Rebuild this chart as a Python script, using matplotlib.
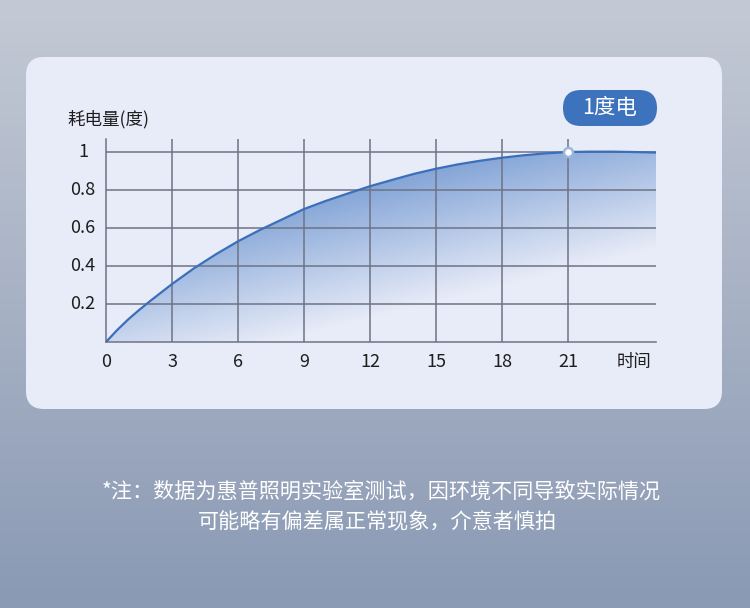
import numpy as np
import matplotlib
matplotlib.use("Agg")
import matplotlib.pyplot as plt
from matplotlib.patches import FancyBboxPatch
from matplotlib.transforms import IdentityTransform

plt.rcParams['font.family'] = ['Noto Sans CJK SC', 'DejaVu Sans']

# ---- data ----
hours = [0, 0.5, 1, 1.5, 2, 3, 4, 5, 6, 7, 8, 9, 10, 11, 12, 13, 14, 15, 16,
         17, 18, 19, 20, 21, 22, 23, 24, 25]
energy = [0, 0.062, 0.118, 0.168, 0.215, 0.305, 0.388, 0.462, 0.53, 0.59,
          0.645, 0.70, 0.743, 0.782, 0.82, 0.853, 0.885, 0.912, 0.935, 0.954,
          0.97, 0.983, 0.993, 1.0, 1.002, 1.002, 1.0, 0.997]
x_ticks = [0, 3, 6, 9, 12, 15, 18, 21]
x_tick_labels = ['0', '3', '6', '9', '12', '15', '18', '21']
y_ticks = [0.2, 0.4, 0.6, 0.8, 1.0]
y_tick_labels = ['0.2', '0.4', '0.6', '0.8', '1']
marker_x = [21]
marker_y = [1.0]
y_title = '耗电量(度)'
x_title = '时间'
badge_text = '1度电'
note_lines = ['*注：数据为惠普照明实验室测试，因环境不同导致实际情况',
              '可能略有偏差属正常现象，介意者慎拍']

W, H = 750, 608
fig = plt.figure(figsize=(W / 100, H / 100), dpi=100)

# background gradient
bg = fig.add_axes([0, 0, 1, 1])
bg.set_axis_off()
t = np.linspace(0, 1, 256)[:, None]
top = np.array([0xc4, 0xca, 0xd5]) / 255
bot = np.array([0x8a, 0x99, 0xb4]) / 255
grad = top * (1 - t[..., None]) + bot * t[..., None]
grad = np.repeat(grad, 4, axis=1)
bg.imshow(grad, aspect='auto', extent=[0, 1, 0, 1], origin='upper')
bg.set_xlim(0, 1)
bg.set_ylim(0, 1)

# panel
panel = FancyBboxPatch((26, H - 409), 696, 352,
                       boxstyle="round,pad=0,rounding_size=18",
                       transform=IdentityTransform(), facecolor='#e8ecf8',
                       edgecolor='none', zorder=1)
fig.add_artist(panel)

# badge
badge = FancyBboxPatch((563, H - 126), 94, 36,
                       boxstyle="round,pad=0,rounding_size=18",
                       transform=IdentityTransform(), facecolor='#3d72bd',
                       edgecolor='none', zorder=3)
fig.add_artist(badge)
fig.text(610 / W, 1 - 108 / H, badge_text, color='white', fontsize=15.5,
         fontweight='medium', ha='center', va='center', zorder=4)

# chart axes
ymax = 1.067
ax = fig.add_axes([106 / W, (H - 342) / H, 550 / W, (342 - 139.3) / H])
ax.set_facecolor('none')
ax.set_xlim(0, 25)
ax.set_ylim(0, ymax)
ax.set_zorder(2)

grid_c = '#6d7386'
for yv in y_ticks:
    ax.axhline(yv, color=grid_c, lw=1.1, zorder=2)
for xv in x_ticks[1:]:
    ax.axvline(xv, color=grid_c, lw=1.1, zorder=2)
for s in ['top', 'right']:
    ax.spines[s].set_visible(False)
for s in ['left', 'bottom']:
    ax.spines[s].set_color(grid_c)
    ax.spines[s].set_linewidth(1.1)
    ax.spines[s].set_zorder(2)

# gradient fill under curve
nx, ny = 300, 200
gx = np.linspace(0, 25, nx)
gy = np.linspace(0, ymax, ny)
GX, GY = np.meshgrid(gx, gy)
alpha = np.clip(0.9 * (GY - 0.0283 * GX + 0.22), 0, 0.62)
rgba = np.zeros((ny, nx, 4))
rgba[..., 0] = 0x4a / 255
rgba[..., 1] = 0x7c / 255
rgba[..., 2] = 0xc4 / 255
rgba[..., 3] = alpha
poly = ax.fill_between(hours, energy, 0, color='none', lw=0)
im = ax.imshow(rgba, extent=[0, 25, 0, ymax], origin='lower', aspect='auto',
               zorder=1)
im.set_clip_path(poly.get_paths()[0], transform=ax.transData)

ax.plot(hours, energy, color='#3a6fba', lw=1.6, zorder=3, solid_capstyle='round')
ax.plot(marker_x, marker_y, 'o', ms=6.5, mfc='white', mec='#9db6dc', mew=1.8,
        zorder=4)

ax.set_xticks([])
ax.set_yticks([])
tick_fs = 13
for xv, lab in zip(x_ticks, x_tick_labels):
    ax.text(xv, -0.105, lab, ha='center', va='center', fontsize=tick_fs,
            color='#1e1e1e')
ax.text(24, -0.105, x_title, ha='center', va='center', fontsize=12.5,
        color='#1e1e1e')
for yv, lab in zip(y_ticks, y_tick_labels):
    ax.text(-1.05, yv, lab, ha='center', va='center', fontsize=tick_fs,
            color='#1e1e1e')
fig.text(67 / W, 1 - 119 / H, y_title, ha='left', va='center', fontsize=12.6,
         color='#1e1e1e')

# footnote
fig.text(381 / W, 1 - 492 / H, note_lines[0], ha='center', va='center',
         fontsize=15.2, color='white')
fig.text(377 / W, 1 - 522 / H, note_lines[1], ha='center', va='center',
         fontsize=15.2, color='white')

fig.savefig('out.png', dpi=100)
